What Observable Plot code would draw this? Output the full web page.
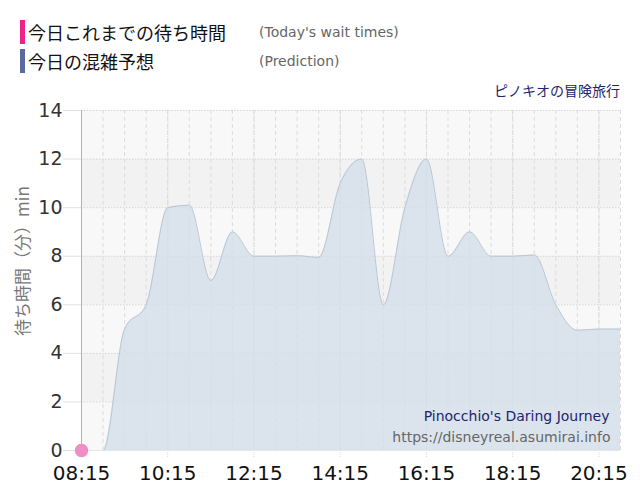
<!DOCTYPE html>
<html>
<head>
<meta charset="utf-8">
<script src="https://cdn.jsdelivr.net/npm/d3@7"></script>
<script src="https://cdn.jsdelivr.net/npm/@observablehq/plot@0.6"></script>
<style>
  body { margin: 0; background: #fff; }
  #wrap { position: relative; width: 640px; height: 500px; overflow: hidden; }
  #head { position: relative; width: 640px; height: 100px; }
  .bar { position: absolute; left: 20px; width: 5px; height: 24px; }
  .jp { position: absolute; left: 28px; font-family: "Noto Sans CJK JP", sans-serif; font-size: 18px; color: #111; line-height: 24px; }
  .en { position: absolute; left: 259px; font-family: "DejaVu Sans", Verdana, sans-serif; font-size: 14px; color: #666; line-height: 24px; }
  #attr { position: absolute; right: 20px; top: 80px; font-family: "Noto Sans CJK JP", sans-serif; font-size: 14px; color: #23236e; line-height: 20px; }
  #ylab { position: absolute; left: 21px; top: 261px; transform: translate(-50%,-50%) rotate(-90deg); transform-origin: center center; font-family: "Noto Sans CJK JP", sans-serif; font-size: 17px; color: #777; white-space: nowrap; }
  #chart { position: absolute; left: 0; top: 100px; }
</style>
</head>
<body>
<div id="wrap">
  <div id="head">
    <div class="bar" style="top:20px;background:#ee2288;"></div>
    <div class="jp" style="top:20px;">今日これまでの待ち時間</div>
    <div class="en" style="top:20px;">(Today's wait times)</div>
    <div class="bar" style="top:49px;background:#5b6a9c;"></div>
    <div class="jp" style="top:49px;">今日の混雑予想</div>
    <div class="en" style="top:49px;">(Prediction)</div>
    <div id="attr">ピノキオの冒険旅行</div>
  </div>
  <div id="chart"></div>
</div>
<script>
// ---- data ----
const times = ["08:15","08:45","09:15","09:45","10:15","10:45","11:15","11:45","12:15","12:45","13:15","13:45",
               "14:15","14:45","15:15","15:45","16:15","16:45","17:15","17:45","18:15","18:45","19:15","19:45","20:15","20:45"];
const predicted = [0,0,5,6,10,10.1,7,9,8,8,8.02,7.95,11,12,6,10,12,8,9,8,8,8.05,6,4.95,5,5];
const actualTimes = ["08:15"];
const actualValues = [0];
const xTickLabels = ["08:15","10:15","12:15","14:15","16:15","18:15","20:15"];
const yTicks = [0,2,4,6,8,10,12,14];
const titleEn = "Pinocchio's Daring Journey";
const siteUrl = "https://disneyreal.asumirai.info";

const toMin = s => { const [h,m] = s.split(":").map(Number); return h*60+m; };
const fmt = m => String(Math.floor(m/60)).padStart(2,"0") + ":" + String(m%60).padStart(2,"0");

const pred = times.map((t,i) => ({x: toMin(t), y: predicted[i]}));
const actual = actualTimes.map((t,i) => ({x: toMin(t), y: actualValues[i]}));
const minorX = times.map(toMin);
const majorX = xTickLabels.map(toMin);
const bands = yTicks.slice(0,-1).map((v,i) => ({y1: v, y2: yTicks[i+1], fill: i % 2 === 0 ? "#f8f8f8" : "#f2f2f2"}));
const x0 = toMin(times[0]), x1 = toMin(times[times.length-1]);

const chart = Plot.plot({
  width: 640,
  height: 400,
  marginTop: 10,
  marginLeft: 81,
  marginRight: 20,
  marginBottom: 50,
  style: {fontFamily: "'DejaVu Sans', Verdana, sans-serif", background: "transparent", overflow: "visible"},
  x: {type: "linear", domain: [x0, x1], axis: null},
  y: {type: "linear", domain: [0, 14], axis: null},
  marks: [
    Plot.rect(bands, {y1: "y1", y2: "y2", fill: "fill"}),
    Plot.ruleY(yTicks, {y: d => d, x1: () => x0, x2: () => x1, stroke: "#d4d4d4", strokeDasharray: "1.5,1.5"}),
    Plot.ruleY(yTicks, {y: d => d, x1: () => x0 - 25, x2: () => x0, stroke: "#e2e2e2"}),
    Plot.ruleX(minorX, {x: d => d, stroke: "#dcdcdc", strokeDasharray: "4,3"}),
    Plot.ruleX(majorX, {x: d => d, stroke: "#d8d8d8", strokeDasharray: "1,1", insetBottom: -8}),
    Plot.areaY(pred, {x: "x", y: "y", curve: "monotone-x", fill: "#d3dfe8", fillOpacity: 0.8, clip: true}),
    Plot.lineY(pred, {x: "x", y: "y", curve: "monotone-x", stroke: "#b9c7d4", strokeWidth: 1, clip: true}),
    Plot.ruleX([x0], {x: d => d, stroke: "#b0b0b8", strokeWidth: 1}),
    Plot.ruleY([0], {y: d => d, stroke: "#e4e8ec", strokeWidth: 1}),
    Plot.text(yTicks, {x: () => x0, y: d => d, text: d => String(d), textAnchor: "end", dx: -19, fontSize: 19, fill: "#333"}),
    Plot.text(majorX, {x: d => d, y: () => 0, text: d => fmt(d), dy: 23, fontSize: 20, fill: "#111", textAnchor: "middle"}),
    Plot.dot(actual, {x: "x", y: "y", r: 6, fill: "#f08cc8", stroke: "#f08cc8"}),
    Plot.text([titleEn], {frameAnchor: "bottom-right", dx: -11, dy: -30, fontSize: 14, fill: "#23236e", textAnchor: "end"}),
    Plot.text([siteUrl], {frameAnchor: "bottom-right", dx: -10, dy: -9, fontSize: 14, fill: "#666", textAnchor: "end"})
  ]
});
document.getElementById("chart").appendChild(chart);

const yl = document.createElement("div");
yl.id = "ylab";
yl.textContent = "待ち時間（分）min";
document.getElementById("wrap").appendChild(yl);
</script>
</body>
</html>
